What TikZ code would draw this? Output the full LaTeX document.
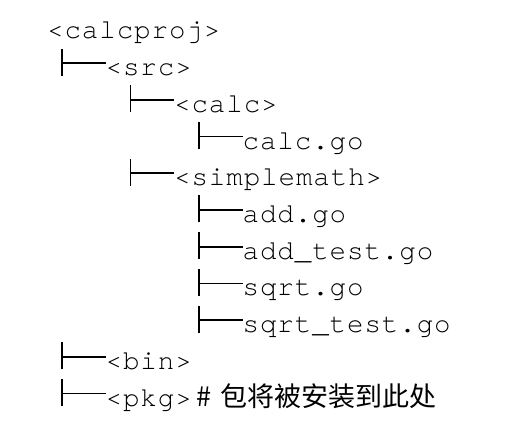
\documentclass[tikz,border=0pt]{standalone}
\usepackage{fontspec}
\newfontfamily\cjk{Noto Sans CJK SC}
\newfontfamily\monofont[LetterSpace=3.3]{texgyrecursor-regular.otf}
\newcommand{\codefont}{\monofont\fontsize{27.5}{30}\selectfont}

\tikzset{
  entry/.style={anchor=base west,inner sep=0pt,font=\codefont},
  treeline/.style={line width=1.7pt}
}

\begin{document}
\begin{tikzpicture}[x=1pt,y=-1pt]
    \useasboundingbox[fill=white] (0,0) rectangle (524,430);
    % directory entries, one row each
    \node[entry] (calcproj) at (47,39) {<calcproj>};
    \node[entry] (src) at (105.5,75.7) {<src>};
    \node[entry] (calcdir) at (174,112.4) {<calc>};
    \node[entry] (calcgo) at (242.5,149.1) {calc.go};
    \node[entry] (simplemath) at (174,185.8) {<simplemath>};
    \node[entry] (addgo) at (242.5,222.5) {add.go};
    \node[entry] (addtest) at (242.5,259.2) {add\_test.go};
    \node[entry] (sqrtgo) at (242.5,295.9) {sqrt.go};
    \node[entry] (sqrttest) at (242.5,332.6) {sqrt\_test.go};
    \node[entry] (bin) at (105.5,369.3) {<bin>};
    \node[entry] (pkg) at (105.5,406) {<pkg>{\cjk\fontsize{27}{30}\selectfont\hspace{5pt}\#\hspace{9pt}包将被安装到此处}};
    % branch marks
    \foreach \n in {src,calcdir,calcgo,simplemath,addgo,addtest,sqrtgo,sqrttest,bin,pkg}
    {
      \draw[treeline] ([xshift=-43.5pt]\n.base west) -- ++(0,-27);
      \draw[treeline] ([xshift=-43.5pt,yshift=12.5pt]\n.base west) -- ([yshift=12.5pt]\n.base west);
    }
\end{tikzpicture}
\end{document}
